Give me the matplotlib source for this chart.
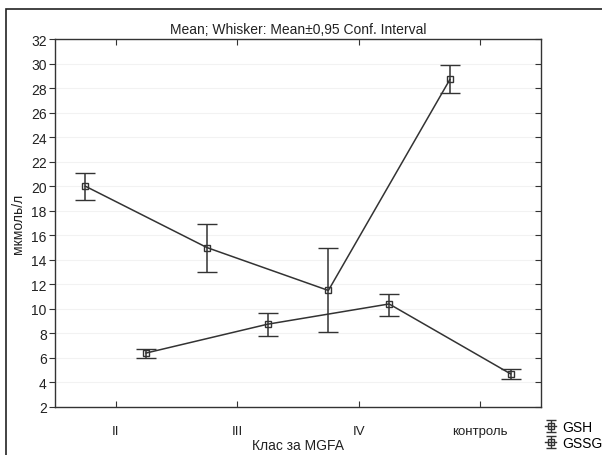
import matplotlib
matplotlib.use('Agg')
import matplotlib.pyplot as plt
from matplotlib.patches import Rectangle
from matplotlib.legend_handler import HandlerErrorbar
import numpy as np

plt.rcParams['font.family'] = ['Liberation Sans', 'DejaVu Sans']

categories = ['II', 'III', 'IV', 'контроль']
gsh_mean = [20.0, 15.0, 11.5, 28.7]
gsh_low = [18.9, 13.0, 8.1, 27.6]
gsh_high = [21.1, 16.95, 14.95, 29.85]
gssg_mean = [6.4, 8.75, 10.4, 4.7]
gssg_low = [6.0, 7.75, 9.4, 4.3]
gssg_high = [6.7, 9.7, 11.25, 5.1]
series_names = ['GSH', 'GSSG']
y_ticks = list(range(2, 33, 2))

W, H = 602, 456
fig = plt.figure(figsize=(W / 100, H / 100), dpi=100)
ax = fig.add_axes([55 / W, (H - 408) / H, 486 / W, 368 / H])

col = '#333333'
x = np.arange(len(categories))
for off, m, lo, hi in [(-0.25, gsh_mean, gsh_low, gsh_high),
                       (0.25, gssg_mean, gssg_low, gssg_high)]:
    m = np.array(m); lo = np.array(lo); hi = np.array(hi)
    ax.errorbar(x + off, m, yerr=[m - lo, hi - m], color=col, lw=1.1,
                marker='s', ms=5, mfc='none', mec=col, mew=1.0,
                capsize=7, capthick=1.1, elinewidth=1.1)

# legend proxies (smaller caps)
proxies = []
for name in series_names:
    p = ax.errorbar([np.nan], [np.nan], yerr=[[1], [1]], color=col, lw=1.0,
                    marker='s', ms=4.5, mfc='none', mec=col, mew=1.0,
                    capsize=3.5, capthick=1.0, elinewidth=1.0)
    proxies.append(p)

ax.set_xlim(-0.5, 3.5)
ax.set_ylim(2, 32)
ax.set_xticks(x)
ax.set_xticklabels(categories)
ax.set_yticks(y_ticks)
ax.grid(axis='y', color='#f2f2f2', lw=0.8)
ax.set_axisbelow(True)
for s in ax.spines.values():
    s.set_color(col)
    s.set_linewidth(1.0)
ax.tick_params(axis='y', left=True, right=True, direction='out', length=4,
               color=col, labelsize=10, labelcolor='#222222', pad=2)
ax.tick_params(axis='x', bottom=True, top=True, direction='in', length=4,
               color=col, labelsize=9.5, labelcolor='#222222', pad=13)
for t in ax.yaxis.get_major_ticks():
    t.tick2line.set_marker(matplotlib.lines.TICKLEFT)
ax.set_xlabel('Клас за MGFA', fontsize=10, color='#222222', labelpad=1)
ax.set_ylabel('мкмоль/л', fontsize=10, color='#222222', labelpad=4)
ax.set_title('Mean; Whisker: Mean±0,95 Conf. Interval', fontsize=10,
             color='#222222', pad=4)

fig.legend(proxies, series_names, loc='upper left',
           bbox_to_anchor=(545 / W, (H - 421) / H), frameon=False,
           handlelength=0.8, handletextpad=0.45, labelspacing=0.15,
           fontsize=10, borderaxespad=0, borderpad=0,
           handler_map={type(proxies[0]): HandlerErrorbar(yerr_size=0.45)})

fig.patches.append(Rectangle((6 / W, -0.1), 1.2, (H - 10) / H + 0.1,
                             transform=fig.transFigure, fill=False,
                             ec='#222222', lw=1.2))
fig.savefig('out.png', dpi=100)
